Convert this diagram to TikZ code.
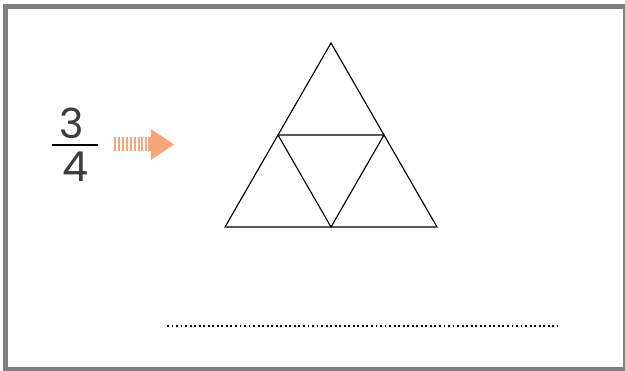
\documentclass[tikz,border=0pt]{standalone}
\usepackage{fontspec}
\setmainfont{Poppins}
\usetikzlibrary{positioning}
\definecolor{framegray}{RGB}{128,128,128}
\definecolor{arroworange}{RGB}{246,166,118}
\definecolor{digitgray}{RGB}{60,60,60}
\tikzset{
  frame/.style={draw=framegray, line width=3.75pt},
  tri/.style={draw=black, line width=0.85pt, line join=miter},
  digit/.style={inner sep=0pt, text=digitgray, font=\fontsize{31}{31}\selectfont},
  fracbar/.style={draw=black, line width=1.5pt},
  stripe/.style={fill=arroworange},
  dotline/.style={draw=black, line width=1.5pt, dash pattern=on 1.4pt off 2pt}
}

\begin{document}
\begin{tikzpicture}[x=0.75pt, y=-0.75pt]
  \useasboundingbox (0,0) rectangle (625,371);
  \draw[frame] (5.5,6.5) rectangle (625.5,369.5);

  % fraction 3/4
  \node[digit] (num) at (72,123) {3};
  \node[digit] (den) at (75,167) {4};
  \coordinate (barl) at (52,145);
  \coordinate (barr) at (98,145);
  \draw[fracbar] (barl) -- (barr);

  % striped arrow
  \foreach \x in {114,118,122,126.3,130.3,134,138,141.3,144.7}
    \fill[stripe] (\x,137) rectangle +(1.8,14);
  \coordinate (tip) at (174,144.5);
  \fill[stripe] (148,137) -- (151,137) -- (151,129) -- (tip) -- (151,160) -- (151,151) -- (148,151) -- cycle;

  % triangle split in four
  \coordinate (top) at (331,43);
  \coordinate (bl) at (225,227);
  \coordinate (br) at (437,227);
  \coordinate (ml) at (278,135);
  \coordinate (mr) at (384,135);
  \coordinate (mb) at (331,227);
  \draw[tri] (top) -- (br) -- (bl) -- cycle;
  \draw[tri] (ml) -- (mr) -- (mb) -- cycle;

  % answer line
  \coordinate (dl) at (167,326);
  \coordinate (dr) at (557,326);
  \draw[dotline] (dl) -- (dr);
\end{tikzpicture}
\end{document}
